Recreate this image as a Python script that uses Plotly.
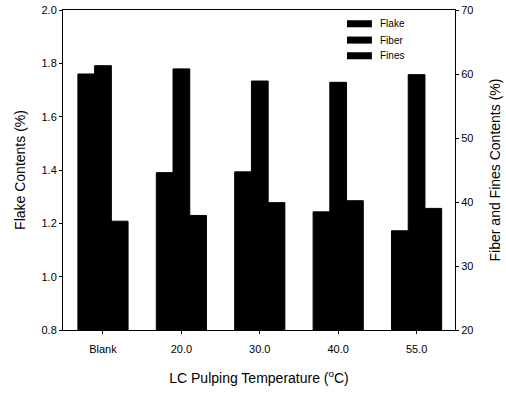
import plotly.graph_objects as go

categories = ["Blank", "20.0", "30.0", "40.0", "55.0"]
flake = [1.76, 1.39, 1.393, 1.243, 1.172]
fiber = [61.3, 60.8, 58.9, 58.7, 59.9]
fines = [37.0, 37.9, 39.9, 40.2, 39.0]
series_names = ["Flake", "Fiber", "Fines"]

FONT = "Liberation Sans, Arial, sans-serif"

fig = go.Figure()
bar_marker = dict(color="black", line=dict(width=1, color="black"))
fig.add_trace(go.Bar(x=categories, y=flake, name="Flake", yaxis="y",
                     marker=bar_marker, offsetgroup="1", alignmentgroup="a", showlegend=False))
fig.add_trace(go.Bar(x=categories, y=fiber, name="Fiber", yaxis="y2",
                     marker=bar_marker, offsetgroup="2", alignmentgroup="a", showlegend=False))
fig.add_trace(go.Bar(x=categories, y=fines, name="Fines", yaxis="y2",
                     marker=bar_marker, offsetgroup="3", alignmentgroup="a", showlegend=False))

axis_common = dict(showgrid=False, zeroline=False, showline=True, linecolor="black",
                   linewidth=1, ticks="outside", ticklen=3, tickcolor="black",
                   automargin=False, ticklabeloverflow="allow",
                   tickfont=dict(family=FONT, size=11, color="black"))

fig.update_layout(
    width=506, height=393,
    margin=dict(l=63, r=51, t=10, b=63),
    paper_bgcolor="white", plot_bgcolor="white",
    barmode="group", bargap=0.36, bargroupgap=0,
    font=dict(family=FONT, color="black"),
    hovermode=False,
    xaxis=dict(**axis_common, range=[-0.51, 4.49], mirror=True, ticklabelstandoff=6,
               title=dict(text="LC Pulping Temperature (<sup>o</sup>C)",
                          font=dict(family=FONT, size=14), standoff=18)),
    yaxis=dict(**axis_common, range=[0.8, 2.0], dtick=0.2, tickformat=".1f",
               title=dict(text="Flake Contents (%)", font=dict(family=FONT, size=14), standoff=12)),
    yaxis2=dict(**axis_common, range=[20, 70], dtick=10, overlaying="y", side="right",
                title=dict(text="Fiber and Fines Contents (%)", font=dict(family=FONT, size=14), standoff=17)),
)

# custom legend (wide flat swatches like the original)
rows_y = [0.957, 0.906, 0.857]
for name, yc in zip(series_names, rows_y):
    fig.add_shape(type="rect", xref="paper", yref="paper",
                  x0=0.7245, x1=0.788, y0=yc - 0.011, y1=yc + 0.011,
                  fillcolor="black", line=dict(width=0))
    fig.add_annotation(xref="paper", yref="paper", x=0.8036, y=yc, text=name,
                       showarrow=False, xanchor="left", yanchor="middle",
                       font=dict(family=FONT, size=10, color="black"))

# remove the page's default 8px body margin so the figure fills the window
fig.write_html("out.html", config={"displayModeBar": False},
               post_script="document.body.style.margin='0';")
